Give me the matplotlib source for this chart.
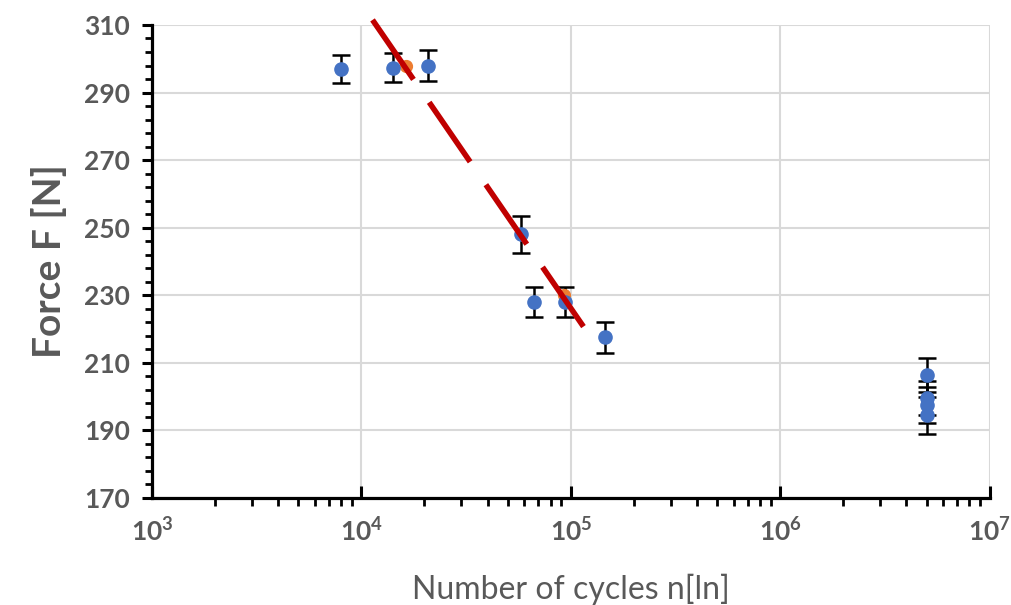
import numpy as np
import matplotlib.pyplot as plt
from matplotlib.ticker import LogLocator, FixedLocator, FuncFormatter, NullFormatter

# measured points (blue) with error bars
cycles = [8000, 14200, 20700, 57700, 66500, 94000, 145000, 5.0e6, 5.0e6, 5.0e6, 5.0e6]
force = [297.0, 297.3, 298.0, 248.0, 228.0, 228.0, 217.5, 206.3, 199.5, 197.5, 194.5]
err = [4.2, 4.3, 4.6, 5.6, 4.3, 4.5, 4.7, 5.0, 5.0, 5.3, 5.5]

# orange points
cyc_orange = [16300, 92700]
force_orange = [297.9, 230.0]

# trend line end points
trend_n = [11300, 125000]
trend_f = [311.5, 217.4]

grey = '#595959'
plt.rcParams['font.family'] = ['Lato', 'DejaVu Sans']
plt.rcParams['mathtext.fontset'] = 'custom'
plt.rcParams['mathtext.bf'] = 'Lato:bold'
plt.rcParams['mathtext.rm'] = 'Lato:bold'

fig = plt.figure(figsize=(10.11, 6.05), dpi=100)
ax = fig.add_axes([0.1503, 0.177, 0.8287, 0.7817])

ax.errorbar(cycles, force, yerr=err, fmt='none', ecolor='black',
            elinewidth=1.8, capsize=6.5, capthick=1.8, zorder=2)
ax.plot(cyc_orange, force_orange, 'o', color='#ED7D31', ms=8.5, zorder=3)
ax.plot(cycles, force, 'o', color='#4472C4', ms=9.5, zorder=4)
ax.plot(trend_n, trend_f, color='#C00000', lw=4, dashes=(13, 5), zorder=5, clip_on=False)

ax.set_xscale('log')
ax.set_xlim(1e3, 1e7)
ax.set_ylim(170, 310)

ax.set_yticks(np.arange(170, 311, 20))
ax.yaxis.set_minor_locator(FixedLocator(np.arange(170, 311, 4)))
ax.xaxis.set_major_locator(LogLocator(base=10, numticks=10))
ax.xaxis.set_minor_locator(LogLocator(base=10, subs=np.arange(2, 10), numticks=20))
ax.xaxis.set_major_formatter(FuncFormatter(lambda v, p: r'$\mathbf{10^{%d}}$' % round(np.log10(v))))
ax.xaxis.set_minor_formatter(NullFormatter())

ax.grid(True, which='major', color='#d9d9d9', lw=1.5, zorder=0)
ax.set_axisbelow(True)

for s in ['top', 'right']:
    ax.spines[s].set_visible(False)
for s in ['left', 'bottom']:
    ax.spines[s].set_linewidth(2.3)

ax.tick_params(axis='y', which='major', direction='out', length=7, width=2.2, pad=9,
               labelsize=19, labelcolor=grey)
ax.tick_params(axis='y', which='minor', direction='out', length=5, width=2)
ax.tick_params(axis='x', which='major', direction='in', length=9, width=2.2, pad=14,
               labelsize=19, labelcolor=grey)
ax.tick_params(axis='x', which='minor', direction='out', length=6, width=2)
for lab in ax.get_yticklabels():
    lab.set_fontweight('bold')

ax.set_ylabel('Force F [N]', fontsize=28, fontweight='bold', color=grey, labelpad=12)
ax.set_xlabel('Number of cycles n[ln]', fontsize=23, color=grey, labelpad=20)

plt.savefig('out.png', dpi=100)
